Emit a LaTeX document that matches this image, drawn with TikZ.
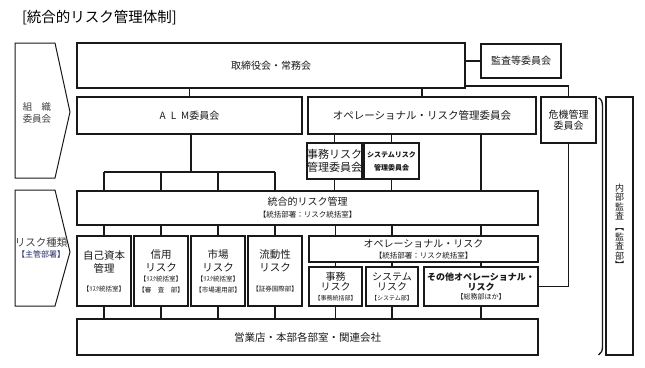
\documentclass[tikz,border=0pt]{standalone}
\usepackage{fontspec}
\setmainfont{Noto Sans CJK JP}
\newcommand\myfs[2]{\fontsize{#1}{#2}\selectfont}
\definecolor{txt}{RGB}{25,25,25}
\definecolor{navy}{RGB}{35,45,100}
\begin{document}
\begin{tikzpicture}[x=1pt,y=-1pt,
  box/.style={draw=black!90, line width=1.1pt, inner sep=0pt, outer sep=0pt, align=center, text=txt},
  ln/.style={draw=black!90, line width=1.1pt},
  lbl/.style={inner sep=0pt, outer sep=0pt, align=center, text=txt}
]
\useasboundingbox (0,0) rectangle (645,367);

% title
\node[lbl, anchor=west, font=\myfs{14.5}{16}, text=black] (title) at (22,18) {[統合的リスク管理体制]};

% left arrows
\draw[ln, line width=1pt] (15,43) -- (55,43) -- (70,112) -- (55,178) -- (15,178) -- cycle;
\node[lbl, font=\myfs{9.5}{12}, text=black!75] (org) at (37,113) {組　織\\委員会};
\draw[ln, line width=1pt] (15,190) -- (55,190) -- (70,252) -- (55,306) -- (15,306) -- cycle;
\node[lbl, font=\myfs{10.5}{10.5}, text=black!75] (rtype) at (41,248) {リスク種類\\{\color{navy}\myfs{8}{9}【主管部署】}};

% top row
\node[box, minimum width=388pt, minimum height=45pt, font=\myfs{10}{12}] (board) at (271,65.5) {取締役会・常務会};
\node[box, minimum width=80pt, minimum height=34pt, font=\myfs{10}{12}] (audcom) at (521,61) {監査等委員会};

% committees
\node[box, minimum width=225pt, minimum height=37pt, font=\myfs{10}{12}] (alm) at (189.5,115.5) {A\hspace{5pt}L\hspace{5pt}M委員会};
\node[box, minimum width=228pt, minimum height=37pt, font=\myfs{10.5}{12}] (opcom) at (422,115.5) {オペレーショナル・リスク管理委員会};
\node[box, minimum width=55pt, minimum height=46pt, font=\myfs{10}{11.5}] (crisis) at (568.5,120) {危機管理\\委員会};
\node[box, minimum width=27pt, minimum height=258pt, font=\myfs{9}{9.5}] (audit) at (619.5,226) {内\\部\\監\\査\\[1.5pt]︻\\監\\査\\部\\︼};

\node[box, minimum width=55pt, minimum height=36pt, font=\myfs{11}{13}] (jimucom) at (334.5,161) {事務リスク\\管理委員会};
\node[box, minimum width=55pt, minimum height=36pt, font=\myfs{7}{13}\bfseries] (syscom) at (391.5,161) {システムリスク\\管理委員会};

% integrated risk management
\node[box, minimum width=461pt, minimum height=34pt, font=\myfs{10}{12}] (irm) at (307.5,208) {統合的リスク管理\\{\myfs{7.5}{9}【統括部署：リスク統括室】}};

% risk types
\node[box, minimum width=54pt, minimum height=70pt, font=\myfs{10.5}{13}] (cap) at (104,271) {自己資本\\管理\\[6pt]{\myfs{6.5}{8}【ﾘｽｸ統括室】}};
\node[box, minimum width=54pt, minimum height=70pt, font=\myfs{10.5}{13}] (cred) at (161,271) {信用\\リスク\\[-3pt]{\myfs{6.5}{8}【ﾘｽｸ統括室】}\\[-2pt]{\myfs{6.5}{8}【審　査　部】}};
\node[box, minimum width=54pt, minimum height=70pt, font=\myfs{10.5}{13}] (mkt) at (218,271) {市場\\リスク\\[-3pt]{\myfs{6.5}{8}【ﾘｽｸ統括室】}\\[-2pt]{\myfs{6.5}{8}【市場運用部】}};
\node[box, minimum width=54pt, minimum height=70pt, font=\myfs{10.5}{12.5}] (liq) at (275,271) {流動性\\リスク\\[8pt]{\myfs{6.5}{8}【証券国際部】}};

\node[box, minimum width=229pt, minimum height=26pt, font=\myfs{10}{11}] (oprisk) at (423.5,249) {オペレーショナル・リスク\\{\myfs{7.5}{9}【統括部署：リスク統括室】}};
\node[box, minimum width=53pt, minimum height=39pt, font=\myfs{10}{10.5}] (jimu) at (335.5,286.5) {事務\\リスク\\[-1pt]{\myfs{6}{7}【事務統括部】}};
\node[box, minimum width=52pt, minimum height=39pt, font=\myfs{10}{10.5}] (sys) at (392,286.5) {システム\\リスク\\[-1pt]{\myfs{6}{7}【システム部】}};
\node[box, minimum width=114pt, minimum height=39pt, font=\myfs{9}{10}] (other) at (481,286.5) {\bfseries その他オペレーショナル・\\\bfseries リスク\\[-1pt]{\myfs{7}{8}【総務部ほか】}};

% bottom
\node[box, minimum width=461pt, minimum height=36pt, font=\myfs{10.5}{12}] (bottom) at (307.5,337) {営業店・本部各部室・関連会社};

% connectors: board
\draw[ln] (audcom.west -| board.east) -- (audcom.west);
\draw[ln] (alm.north) -- (alm.north |- board.south);
\draw[ln] (opcom.north) -- (opcom.north |- board.south);
\draw[ln] ([yshift=2pt]board.south east) -| (crisis.north);

% ALM bus
\coordinate (almbus) at (191,172);
\draw[ln] (almbus |- alm.south) -- (almbus);
\draw[ln] (cap.north |- almbus) -- (liq.north |- almbus);
\foreach \n in {cap,cred,mkt,liq}
  \draw[ln] (\n.north |- almbus) -- (\n.north |- irm.north);

% op committee
\draw[ln] (jimucom.north) -- (jimucom.north |- opcom.south);
\draw[ln] (syscom.north) -- (syscom.north |- opcom.south);
\draw[ln] (jimucom.south) -- (jimucom.south |- irm.north);
\draw[ln] (syscom.south) -- (syscom.south |- irm.north);
\draw[ln] (other.north |- opcom.south) -- (other.north |- irm.north);

% irm to risk types
\foreach \n in {cap,cred,mkt,liq}
  \draw[ln] (\n.north) -- (\n.north |- irm.south);
\foreach \n in {jimu,sys,other} {
  \draw[ln] (\n.north |- irm.south) -- (\n.north |- oprisk.north);
  \draw[ln] (\n.north) -- (\n.north |- oprisk.south);
}

% to bottom
\foreach \n in {cap,cred,mkt,liq,jimu,sys,other}
  \draw[ln] (\n.south) -- (\n.south |- bottom.north);

% crisis to other
\draw[ln] (crisis.south) |- (other.east);

% bracket beside internal audit
\draw[ln, line width=1.3pt] (598.5,98) .. controls (601.5,99) and (602.5,102) .. (602.5,107) -- (602.5,346) .. controls (602.5,351) and (601.5,353) .. (598.5,355);
\end{tikzpicture}
\end{document}
